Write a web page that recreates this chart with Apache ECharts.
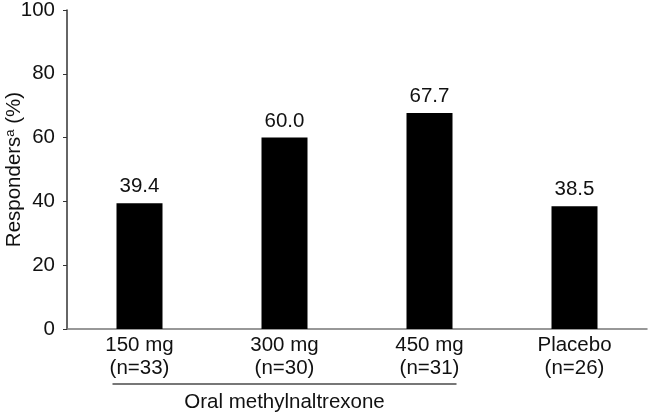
<!DOCTYPE html>
<html><head><meta charset="utf-8">
<script src="https://cdn.jsdelivr.net/npm/echarts@6/dist/echarts.min.js"></script>
<style>html,body{margin:0;padding:0;background:#fff}#c{width:649px;height:414px}</style>
</head><body><div id="c"></div>
<script>
const categories = ['150 mg\n(n=33)', '300 mg\n(n=30)', '450 mg\n(n=31)', 'Placebo\n(n=26)'];
const values = [39.4, 60.0, 67.7, 38.5];
const yTicks = [0, 20, 40, 60, 80, 100];
const groupLabel = 'Oral methylnaltrexone';
const groupIdx = [0, 2];

const FONT = '"Liberation Sans", Arial, sans-serif';
const FS = 20.5;
const chart = echarts.init(document.getElementById('c'));
const option = {
  animation: false,
  grid: { left: 67, right: 2, top: 10, bottom: 85, containLabel: false, outerBoundsMode: 'none' },
  xAxis: {
    type: 'category', data: categories,
    axisLine: { lineStyle: { color: '#777', width: 1.5 } },
    axisTick: { show: false },
    axisLabel: { color: '#111', fontSize: FS, fontFamily: FONT, lineHeight: 23, margin: 5 }
  },
  yAxis: {
    type: 'value', min: 0, max: 100, interval: 20,
    name: '{n|Responders}{s|a}{n| (%)}', nameLocation: 'middle', nameGap: 42, nameRotate: 90,
    nameMoveOverlap: false,
    nameTextStyle: { rich: { n: { fontSize: FS, fontFamily: FONT, color: '#111' }, s: { fontSize: 13, fontFamily: FONT, color: '#111', verticalAlign: 'top', padding: [0, 0, 8, 0] } } },
    splitLine: { show: false },
    axisLine: { show: true, lineStyle: { color: '#333', width: 1.5 } },
    axisTick: { show: true, length: 4, lineStyle: { color: '#333' } },
    axisLabel: { color: '#111', fontSize: FS, fontFamily: FONT, margin: 12,
      formatter: v => yTicks.includes(v) ? String(v) : '' }
  },
  series: [{
    type: 'bar', data: values, barWidth: 46,
    itemStyle: { color: '#000' },
    label: { show: true, position: 'top', distance: 6, color: '#111', fontSize: FS, fontFamily: FONT,
      formatter: p => p.value.toFixed(1) }
  }]
};
chart.setOption(option);
const x0 = chart.convertToPixel({ xAxisIndex: 0 }, groupIdx[0]);
const x1 = chart.convertToPixel({ xAxisIndex: 0 }, groupIdx[1]);
const y0 = chart.convertToPixel({ yAxisIndex: 0 }, 0);
chart.setOption({
  graphic: [
    { type: 'line', shape: { x1: x0 - 27, y1: y0 + 55, x2: x1 + 27, y2: y0 + 55 }, style: { stroke: '#777', lineWidth: 2 } },
    { type: 'text', x: (x0 + x1) / 2, y: y0 + 73, style: { text: groupLabel, fontSize: FS, fontFamily: FONT, fill: '#111', align: 'center', verticalAlign: 'middle' } }
  ]
});
</script></body></html>
